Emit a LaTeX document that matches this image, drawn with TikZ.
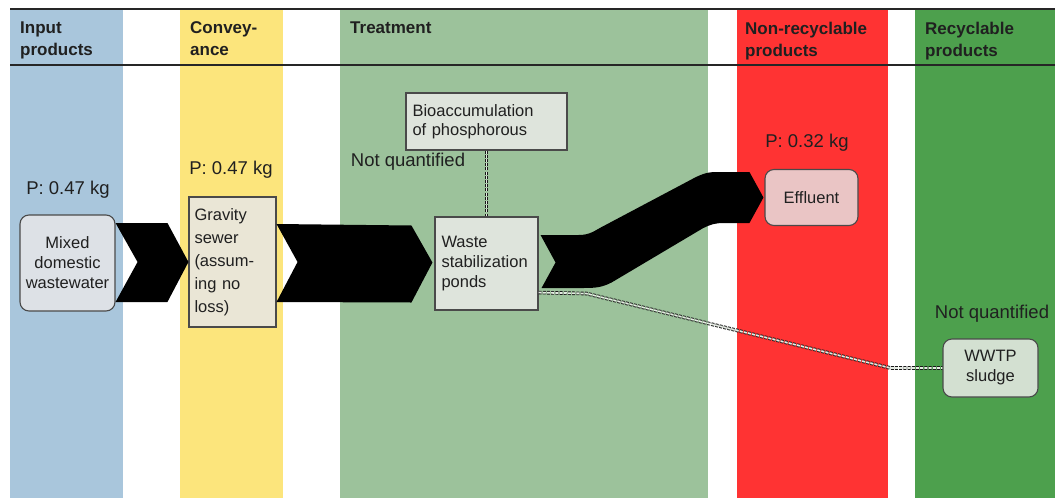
\documentclass[tikz,border=0pt]{standalone}
\usepackage{fontspec}
\setmainfont{Liberation Sans}
\usetikzlibrary{calc}

\definecolor{colinput}{HTML}{A9C6DC}
\definecolor{colconv}{HTML}{FCE57C}
\definecolor{coltreat}{HTML}{9CC29B}
\definecolor{colnonrec}{HTML}{FF3333}
\definecolor{colrec}{HTML}{4DA04D}
\definecolor{boxline}{HTML}{4A4A4A}
\definecolor{txt}{HTML}{202020}
\definecolor{fillmix}{HTML}{DDE1E6}
\definecolor{fillgrav}{HTML}{EAE6D6}
\definecolor{filltreat}{HTML}{DEE4DC}
\definecolor{filleff}{HTML}{EAC5C5}
\definecolor{fillsludge}{HTML}{D3E0D1}
\definecolor{dashmid}{HTML}{E4ECE2}

\tikzset{
  head/.style={font=\fontsize{17}{22}\selectfont\bfseries, text=txt, align=left, anchor=north west, inner sep=0pt},
  label/.style={font=\fontsize{18.5}{22}\selectfont, text=txt, inner sep=0pt},
  box/.style={draw=boxline, line width=1.1pt, font=\fontsize{16.5}{20}\selectfont, text=txt, inner sep=0pt},
  roundbox/.style={box, rounded corners=9pt},
  flow/.style={fill=black},
  unq/.style={draw=black!90, line width=0.9pt, dash pattern=on 3pt off 1.2pt, double=dashmid, double distance=1.8pt},
}

\begin{document}
\begin{tikzpicture}[x=1pt,y=-1pt]
\useasboundingbox (0,0) rectangle (1055,498);

% column backgrounds
\fill[colinput]  (10,9)  rectangle (123,498);
\fill[colconv]   (180,9) rectangle (283,498);
\fill[coltreat]  (340,9) rectangle (708,498);
\fill[colnonrec] (737,9) rectangle (888,498);
\fill[colrec]    (915,9) rectangle (1055,498);

% header rules
\draw[line width=2pt, black!85] (10,8.5) -- (1055,8.5);
\draw[line width=2pt, black!85] (10,65) -- (1055,65);

% column headings
\node[head] (hin)  at (20,21.5)  {Input\\products};
\node[head] (hcon) at (190,21.5) {Convey-\\ance};
\node[head] (htr)  at (350,21.5) {Treatment};
\node[head] (hnr)  at (745,21.5) {Non-recyclable\\products};
\node[head] (hre)  at (925,21.5) {Recyclable\\products};

% process boxes
\node[roundbox, fill=fillmix, minimum width=95pt, minimum height=96pt, align=center]
  (mix) at (67.5,263) {Mixed\\domestic\\wastewater};
\node[box, fill=fillgrav, minimum width=87pt, minimum height=130pt, align=left, text width=76pt,
  font=\fontsize{16.5}{23}\selectfont]
  (grav) at (232.5,262) {Gravity\\sewer\\(assum-\\ing no\\loss)};
\node[box, fill=filltreat, minimum width=103pt, minimum height=93pt, align=left, text width=90pt]
  (waste) at (486.5,263.5) {Waste\\stabilization\\ponds};
\node[box, fill=filltreat, minimum width=161pt, minimum height=57pt, align=left, text width=148pt,
  font=\fontsize{16.5}{19}\selectfont]
  (bio) at (486.5,121.5) {Bioaccumulation\\of phosphorous};
\node[roundbox, fill=filleff, minimum width=93pt, minimum height=56pt, align=center]
  (eff) at (811.5,197.5) {Effluent};
\node[roundbox, fill=fillsludge, minimum width=95pt, minimum height=58pt, align=center]
  (wwtp) at (990.5,368) {WWTP\\sludge};

% quantity labels
\node[label] (pin)  at (68,190)  {P: 0.47 kg};
\node[label] (pcon) at (231,170) {P: 0.47 kg};
\node[label] (peff) at (807,143) {P: 0.32 kg};
\node[label] (nqbio) at (408,162) {Not quantified};
\node[label] (nqsl)  at (992,314) {Not quantified};

% unquantified flows (double dashed)
\draw[unq] (bio.south) -- (waste.north);
\coordinate (sl1) at ($(waste.south east)+(0,-18)$);
\coordinate (sl2) at ($(sl1)+(48,1)$);
\coordinate (sl3) at ($(wwtp.west)+(-52,0)$);
\draw[unq] (sl1) -- (sl2) -- (sl3) -- (wwtp.west);

% quantified flows (black chevrons)
\fill[flow] ($(mix.east)+(0,-40)$) -- ($(grav.west)+(-21,-39)$) -- (grav.west)
  -- ($(grav.west)+(-21,40)$) -- ($(mix.east)+(0,39)$) -- ($(mix.east)+(22,-1)$) -- cycle;
\fill[flow] ($(grav.east)+(0,-38)$) -- ($(waste.west)+(-23,-38)$) -- ($(waste.west)+(-2,-1)$)
  -- ($(waste.west)+(-23,39)$) -- ($(grav.east)+(0,40)$) -- ($(grav.east)+(21,0)$) -- cycle;

% ponds to effluent band
\coordinate (bs) at (waste.east);
\coordinate (be) at (eff.west);
\fill[flow] ($(bs)+(2,-28.5)$) -- ($(bs)+(40,-28.5)$)
  .. controls ($(bs)+(52,-28.5)$) and ($(bs)+(56,-33)$) .. ($(bs)+(66,-38)$)
  -- ($(be)+(-75,-17)$)
  .. controls ($(be)+(-64,-23)$) and ($(be)+(-58,-25.5)$) .. ($(be)+(-48,-25.5)$)
  -- ($(be)+(-15,-25.5)$) -- ($(be)+(-1,0)$) -- ($(be)+(-15,25.5)$) -- ($(be)+(-40,25.5)$)
  .. controls ($(be)+(-50,25.5)$) and ($(be)+(-54,27)$) .. ($(be)+(-62,31)$)
  -- ($(bs)+(73,19)$)
  .. controls ($(bs)+(63,24)$) and ($(bs)+(57,24.5)$) .. ($(bs)+(45,24.5)$)
  -- ($(bs)+(3,24.5)$) -- ($(bs)+(17,-1)$) -- cycle;
\end{tikzpicture}
\end{document}
